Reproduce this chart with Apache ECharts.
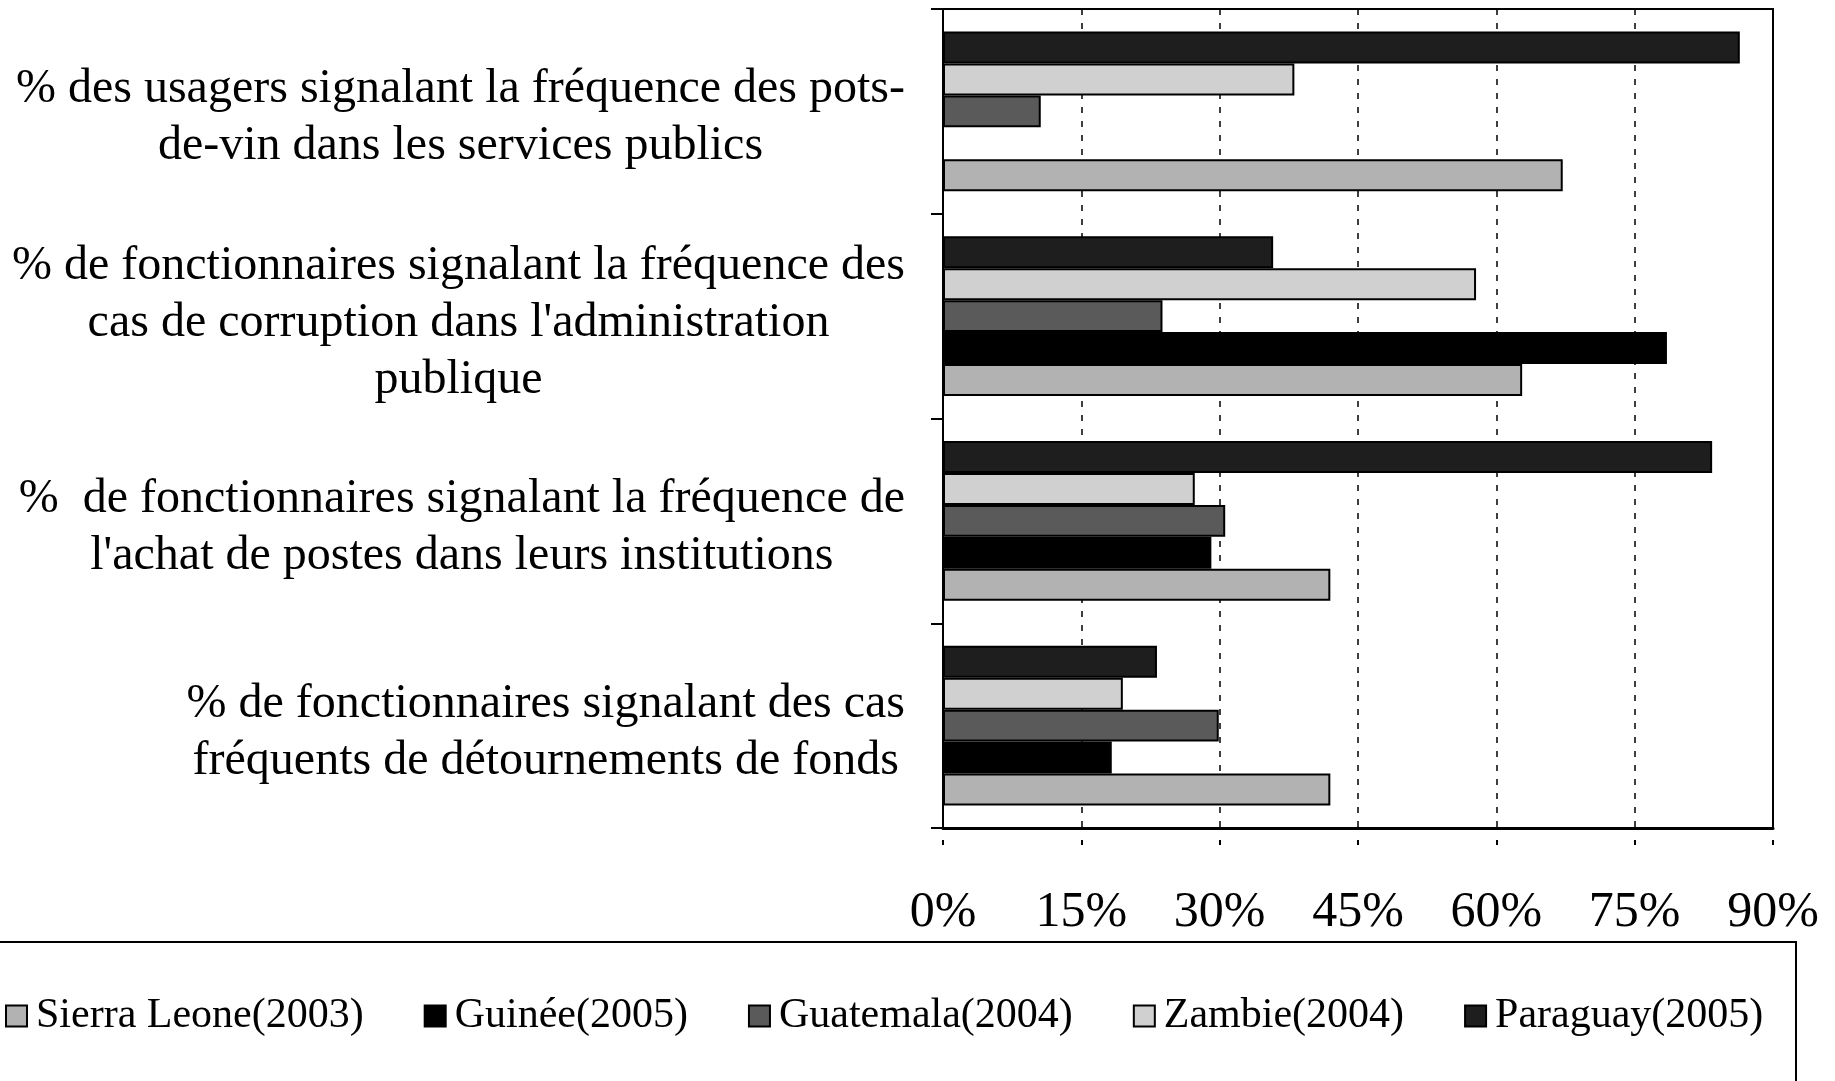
<!DOCTYPE html>
<html>
<head>
<meta charset="utf-8">
<script src="https://cdn.jsdelivr.net/npm/echarts@6/dist/echarts.min.js"></script>
<style>
html,body{margin:0;padding:0;background:#fff;}
#main{width:1835px;height:1081px;}
</style>
</head>
<body>
<div id="main"></div>
<script>
// categories bottom -> top (the category axis starts at the bottom)
var categories = [
	"% de fonctionnaires signalant des cas\nfréquents de détournements de fonds",
	"%  de fonctionnaires signalant la fréquence de\nl'achat de postes dans leurs institutions",
	"% de fonctionnaires signalant la fréquence des\ncas de corruption dans l'administration\npublique",
	"% des usagers signalant la fréquence des pots-\nde-vin dans les services publics"
];
var seriesNames = ['Sierra Leone(2003)','Guinée(2005)','Guatemala(2004)','Zambie(2004)','Paraguay(2005)'];
var sierraLeone = [42.0, 42.0, 62.8, 67.2];
var guinee = [18.3, 29.1, 78.5, null];
var guatemala = [29.9, 30.6, 23.8, 10.6];
var zambie = [19.5, 27.3, 57.8, 38.1];
var paraguay = [23.2, 83.4, 35.8, 86.4];
var colors = ['#b2b2b2','#000000','#5a5a5a','#d0d0d0','#1e1e1e'];
var xTicks = [0,15,30,45,60,75,90];

var font = '"Liberation Serif","Times New Roman",serif';
var values = [sierraLeone, guinee, guatemala, zambie, paraguay];

// pushed in reverse so Paraguay sits on top inside each group
var series = [];
for(var i=seriesNames.length-1;i>=0;i--){
	series.push({
		name:seriesNames[i],
		type:'bar',
		xAxisIndex:0,
		barGap:'0%',
		barCategoryGap:'22%',
		data:values[i],
		itemStyle:{color:colors[i],borderColor:'#000',borderWidth:2}
	});
}

var myChart = echarts.init(document.getElementById('main'));
var option = {
	animation:false,
	backgroundColor:'#fff',
	grid:{left:943,right:62,top:9,bottom:253,show:true,borderColor:'#000',borderWidth:2,backgroundColor:'transparent'},
	legend:{
		data:seriesNames,
		left:0,
		top:990,
		icon:'rect',
		itemWidth:21,
		itemHeight:21,
		itemGap:60,
		textStyle:{fontFamily:font,fontSize:42,color:'#000',padding:[0,0,0,4]}
	},
	graphic:[{
		type:'rect',
		shape:{x:-5,y:942,width:1801,height:200},
		style:{fill:'none',stroke:'#000',lineWidth:2},
		z:-1
	}],
	xAxis:[{
		type:'value',
		min:xTicks[0],
		max:xTicks[xTicks.length-1],
		interval:15,
		axisLine:{show:true,lineStyle:{color:'#000',width:3}},
		axisTick:{show:false},
		axisLabel:{formatter:'{value}%',fontFamily:font,fontSize:50,color:'#000',margin:60},
		splitLine:{show:true,lineStyle:{color:'#000',width:1.5,type:[6,8]}}
	},{
		type:'value',
		position:'bottom',
		offset:12,
		min:xTicks[0],
		max:xTicks[xTicks.length-1],
		interval:15,
		axisLine:{show:false},
		axisTick:{show:true,length:5,lineStyle:{color:'#000',width:2}},
		axisLabel:{show:false},
		splitLine:{show:false}
	}],
	yAxis:{
		type:'category',
		data:categories,
		axisLine:{show:true,lineStyle:{color:'#000',width:2}},
		axisTick:{show:true,length:12,lineStyle:{color:'#000',width:2}},
		axisLabel:{
			margin:38,
			align:'right',
			padding:[14,0,0,0],
			formatter:function(v){
				return v.split('\n').map(function(s){return '{c|'+s+'}';}).join('\n');
			},
			rich:{c:{align:'center',fontFamily:font,fontSize:48,lineHeight:57,color:'#000'}}
		}
	},
	series:series
};
myChart.setOption(option);
</script>
</body>
</html>
